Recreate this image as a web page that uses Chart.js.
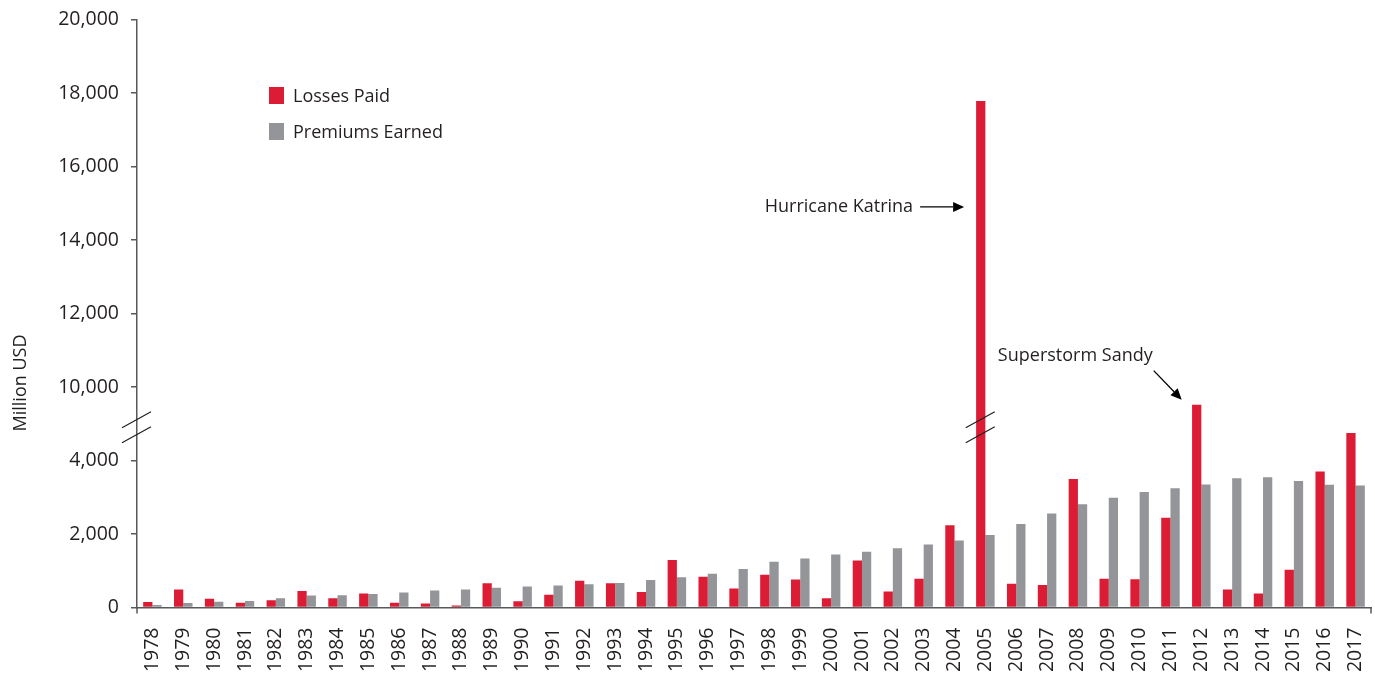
<!DOCTYPE html>
<html>
<head>
<meta charset="utf-8">
<title>Flood losses paid vs premiums earned</title>
<script src="https://cdn.jsdelivr.net/npm/chart.js@4/dist/chart.umd.min.js"></script>
<style>
    html, body { margin: 0; padding: 0; background: #fff; }
    #chart { display: block; }
</style>
</head>
<body>
<canvas id="chart" width="1375" height="677"></canvas>
<script>
"use strict";

const years = ["1978", "1979", "1980", "1981", "1982", "1983", "1984", "1985", "1986", "1987",
    "1988", "1989", "1990", "1991", "1992", "1993", "1994", "1995", "1996", "1997",
    "1998", "1999", "2000", "2001", "2002", "2003", "2004", "2005", "2006", "2007",
    "2008", "2009", "2010", "2011", "2012", "2013", "2014", "2015", "2016", "2017"];

// Million USD
const lossesPaid = [150, 490, 240, 130, 200, 450, 250, 380, 130, 110,
    55, 660, 170, 345, 725, 660, 425, 1295, 835, 520,
    890, 760, 255, 1280, 435, 780, 2240, 17780, 645, 615,
    3500, 780, 770, 2440, 9520, 490, 380, 1025, 3700, 4750];

const premiumsEarned = [70, 125, 155, 180, 255, 325, 335, 370, 410, 460,
    490, 535, 570, 600, 635, 670, 745, 825, 915, 1050,
    1245, 1335, 1440, 1515, 1615, 1715, 1825, 1975, 2270, 2560,
    2810, 2985, 3140, 3245, 3345, 3520, 3545, 3445, 3340, 3320];

const yTickLabels = ["0", "2,000", "4,000", "10,000", "12,000", "14,000", "16,000", "18,000", "20,000"];

const annotations = [
    { text: "Hurricane Katrina", year: "2005", value: 14900 },
    { text: "Superstorm Sandy", year: "2012", value: 9520 }
];

// broken axis: everything above the gap is shifted down by 4,000
const GAP_LOW = 5000;
const GAP_HIGH = 9000;
const toDisplay = v => v > GAP_HIGH ? v - (GAP_HIGH - GAP_LOW) : Math.min(v, GAP_LOW);

const RED = "#dc1c34";
const GREY = "#939598";
const AXIS = "#58595b";
const TEXT = "#231f20";
const FONT = "'Open Sans', 'Noto Sans', sans-serif";

/* --- helpers --- */
function arrow(ctx, x1, y1, x2, y2) {
    const ang = Math.atan2(y2 - y1, x2 - x1);
    const head = 11, half = 5;
    const bx = x2 - head * Math.cos(ang), by = y2 - head * Math.sin(ang);
    ctx.beginPath();
    ctx.moveTo(x1, y1);
    ctx.lineTo(bx, by);
    ctx.stroke();
    ctx.beginPath();
    ctx.moveTo(x2, y2);
    ctx.lineTo(bx + half * Math.sin(ang), by - half * Math.cos(ang));
    ctx.lineTo(bx - half * Math.sin(ang), by + half * Math.cos(ang));
    ctx.closePath();
    ctx.fill();
}

function breakMarks(ctx, x, y) {
    ctx.beginPath();
    ctx.moveTo(x - 15, y + 1);
    ctx.lineTo(x + 14, y - 15);
    ctx.moveTo(x - 15, y + 16);
    ctx.lineTo(x + 14, y);
    ctx.stroke();
}

/* --- extras drawn on top of the chart --- */
const extrasPlugin = {
    id: "extras",
    afterDraw(chart) {
        const { ctx, scales: { y }, chartArea } = chart;
        const red = chart.getDatasetMeta(0).data;
        ctx.save();

        // end ticks on the category axis
        ctx.strokeStyle = AXIS;
        ctx.lineWidth = 1.5;
        ctx.beginPath();
        ctx.moveTo(chartArea.left, chartArea.bottom);
        ctx.lineTo(chartArea.left, chartArea.bottom + 6);
        ctx.moveTo(chartArea.right, chartArea.bottom);
        ctx.lineTo(chartArea.right, chartArea.bottom + 6);
        ctx.stroke();

        // axis break on the y axis and on the Katrina bar
        const yBreak = y.getPixelForValue(GAP_LOW) + 3;
        ctx.strokeStyle = "#231f20";
        ctx.lineWidth = 1.2;
        breakMarks(ctx, chartArea.left, yBreak);
        const katrinaBar = red[years.indexOf("2005")];
        breakMarks(ctx, katrinaBar.x, yBreak);

        // y axis title
        ctx.fillStyle = TEXT;
        ctx.font = "18px " + FONT;
        ctx.textAlign = "center";
        ctx.textBaseline = "middle";
        ctx.save();
        ctx.translate(21, 383);
        ctx.rotate(-Math.PI / 2);
        ctx.fillText("Million USD", 0, 0);
        ctx.restore();

        // legend
        const legend = [["Losses Paid", RED, 96], ["Premiums Earned", GREY, 132]];
        ctx.textAlign = "left";
        legend.forEach(([label, color, cy]) => {
            ctx.fillStyle = color;
            ctx.fillRect(269, cy - 9, 15, 17);
            ctx.fillStyle = TEXT;
            ctx.fillText(label, 293, cy + 1);
        });

        // annotations
        ctx.strokeStyle = "#000";
        ctx.fillStyle = "#000";
        ctx.lineWidth = 1.3;
        const kat = annotations[0];
        const kb = red[years.indexOf(kat.year)];
        const ky = y.getPixelForValue(toDisplay(kat.value));
        const kx = kb.x - kb.width / 2 - 12;
        arrow(ctx, kx - 44, ky, kx, ky);
        ctx.fillStyle = TEXT;
        ctx.textAlign = "right";
        ctx.fillText(kat.text, kx - 51, ky);

        const san = annotations[1];
        const sb = red[years.indexOf(san.year)];
        const sx = sb.x - 15, sy = y.getPixelForValue(toDisplay(san.value)) - 5;
        ctx.fillStyle = "#000";
        arrow(ctx, sx - 28, sy - 29, sx, sy);
        ctx.fillStyle = TEXT;
        ctx.textAlign = "right";
        ctx.fillText(san.text, sx - 29, sy - 44);

        ctx.restore();
    }
};

const chart = new Chart(document.getElementById("chart").getContext("2d"), {
    type: "bar",
    data: {
        labels: years,
        datasets: [
            {
                label: "Losses Paid",
                data: lossesPaid.map(toDisplay),
                backgroundColor: RED,
                categoryPercentage: 0.6,
                barPercentage: 1.0
            },
            {
                label: "Premiums Earned",
                data: premiumsEarned.map(toDisplay),
                backgroundColor: GREY,
                categoryPercentage: 0.6,
                barPercentage: 1.0
            }
        ]
    },
    options: {
        responsive: false,
        devicePixelRatio: 1,
        animation: false,
        layout: { padding: { top: 19.5, right: 4, left: 0, bottom: 0 } },
        plugins: {
            legend: { display: false },
            tooltip: { enabled: false }
        },
        scales: {
            x: {
                grid: { display: false, drawTicks: false },
                border: { display: true, color: AXIS, width: 1.5 },
                ticks: {
                    color: TEXT,
                    font: { family: FONT, size: 19.5 },
                    minRotation: 90,
                    maxRotation: 90,
                    autoSkip: false,
                    padding: 20
                },
                afterFit(scale) {
                    scale.height = 69.5;
                    scale.paddingLeft = 0;
                    scale.paddingRight = 0;
                }
            },
            y: {
                min: 0,
                max: toDisplay(20000),
                grid: {
                    drawOnChartArea: false,
                    drawTicks: true,
                    tickLength: 6,
                    color: AXIS,
                    lineWidth: 1.5
                },
                border: { display: true, color: AXIS, width: 1.5 },
                ticks: {
                    stepSize: 2000,
                    color: TEXT,
                    padding: 12,
                    font: { family: FONT, size: 19.5 },
                    callback: (value, index) => yTickLabels[index]
                },
                afterFit(scale) {
                    scale.width = 137;
                    scale.paddingTop = 0;
                    scale.paddingBottom = 0;
                }
            }
        }
    },
    plugins: [extrasPlugin]
});
</script>
</body>
</html>
